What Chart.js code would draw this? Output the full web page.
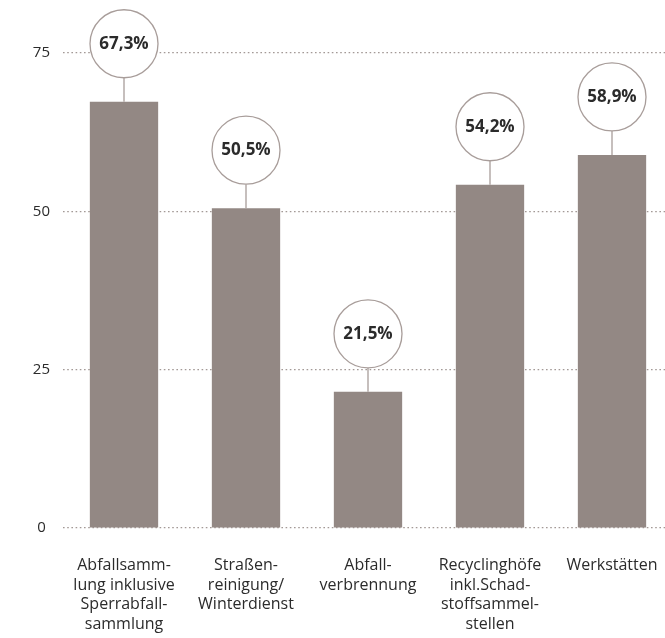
<!DOCTYPE html>
<html lang="de">
<head>
    <meta charset="UTF-8">
    <title>Anteile nach Bereich</title>
    <script src="https://cdn.jsdelivr.net/npm/chart.js"></script>
    <style>
        html, body {
            margin: 0;
            padding: 0;
            background: #ffffff;
            overflow: hidden;
        }
        .chart-container {
            position: relative;
            width: 673px;
            height: 638px;
        }
    </style>
</head>
<body>
<div class="chart-container">
    <canvas id="barChart"></canvas>
</div>

<script>
    const categories = [
        ['Abfallsamm-', 'lung inklusive', 'Sperrabfall-', 'sammlung'],
        ['Straßen-', 'reinigung/', 'Winterdienst'],
        ['Abfall-', 'verbrennung'],
        ['Recyclinghöfe', 'inkl.Schad-', 'stoffsammel-', 'stellen'],
        ['Werkstätten']
    ];
    const values = [67.3, 50.5, 21.5, 54.2, 58.9];
    const yTicks = [0, 25, 50, 75];

    const barColor = '#938884';
    const ringColor = '#a89d9a';
    const fontFamily = '"Open Sans", "DejaVu Sans", sans-serif';

    // bubble with the percentage above each bar, joined to the bar by a short stem
    const bubbleLabels = {
        id: 'bubbleLabels',
        afterDatasetsDraw(chart) {
            const ctx = chart.ctx;
            const meta = chart.getDatasetMeta(0);
            const radius = 34;
            const lift = 58;
            ctx.save();
            meta.data.forEach((bar, i) => {
                const cx = bar.x;
                const cy = bar.y - lift;
                ctx.strokeStyle = ringColor;
                ctx.lineWidth = 1.3;
                ctx.beginPath();
                ctx.moveTo(cx, cy + radius);
                ctx.lineTo(cx, bar.y);
                ctx.stroke();
                ctx.fillStyle = '#ffffff';
                ctx.beginPath();
                ctx.arc(cx, cy, radius, 0, Math.PI * 2);
                ctx.fill();
                ctx.stroke();
                ctx.fillStyle = '#2b2b2b';
                ctx.font = 'bold 17px ' + fontFamily;
                ctx.textAlign = 'center';
                ctx.textBaseline = 'middle';
                ctx.fillText(values[i].toFixed(1).replace('.', ',') + '%', cx, cy);
            });
            ctx.restore();
        }
    };

    new Chart(document.getElementById('barChart').getContext('2d'), {
        type: 'bar',
        data: {
            labels: categories,
            datasets: [{
                data: values,
                backgroundColor: barColor,
                categoryPercentage: 1,
                barPercentage: 0.56
            }]
        },
        options: {
            responsive: true,
            maintainAspectRatio: false,
            animation: false,
            layout: { padding: { top: 53, left: 0, right: 0, bottom: 0 } },
            plugins: {
                legend: { display: false },
                tooltip: { enabled: false }
            },
            scales: {
                x: {
                    afterFit(scale) {
                        scale.height = 110;
                        scale.paddingLeft = 0;
                        scale.paddingRight = 0;
                    },
                    grid: { display: false, drawTicks: false },
                    border: { display: false },
                    ticks: {
                        color: '#2b2b2b',
                        padding: 28,
                        maxRotation: 0,
                        autoSkip: false,
                        font: { family: fontFamily, size: 16, lineHeight: 1.22 }
                    }
                },
                y: {
                    min: 0,
                    max: 75,
                    afterBuildTicks(scale) {
                        scale.ticks = yTicks.map(v => ({ value: v }));
                    },
                    afterFit(scale) {
                        scale.width = 63;
                    },
                    grid: {
                        color: '#a39996',
                        lineWidth: 1.2,
                        drawTicks: false
                    },
                    border: { display: false, dash: [1.6, 2.6] },
                    ticks: {
                        color: '#2b2b2b',
                        padding: 13,
                        crossAlign: 'center',
                        font: { family: fontFamily, size: 15 }
                    }
                }
            }
        },
        plugins: [bubbleLabels]
    });
</script>
</body>
</html>
